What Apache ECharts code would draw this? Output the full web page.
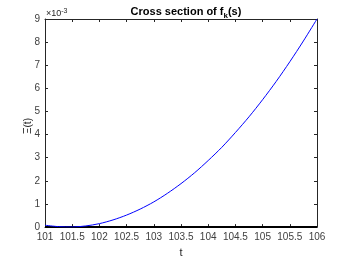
<!DOCTYPE html>
<html><head><meta charset="utf-8">
<script src="https://cdn.jsdelivr.net/npm/echarts@6/dist/echarts.min.js"></script>
<style>html,body{margin:0;padding:0;background:#fff}#c{width:350px;height:263px}</style>
</head><body><div id="c"></div>
<script>
// t values and Xi(t) in units of 1e-3
const tValues = [101, 101.25, 101.5, 101.75, 102, 102.25, 102.5, 102.75, 103, 103.25, 103.5, 103.75, 104, 104.25, 104.5, 104.75, 105, 105.25, 105.5, 105.75, 106];
const xiValues = [0.08, 0.02, 0.005, 0.05, 0.15, 0.31, 0.52, 0.78, 1.09, 1.46, 1.88, 2.35, 2.88, 3.45, 4.09, 4.77, 5.51, 6.30, 7.15, 8.05, 9.0];
const zeroLine = [[101, 0], [106, 0]];
const xTicks = [101, 101.5, 102, 102.5, 103, 103.5, 104, 104.5, 105, 105.5, 106];
const yTicks = [0, 1, 2, 3, 4, 5, 6, 7, 8, 9];
const exponentText = '-3';

const chart = echarts.init(document.getElementById('c'), null, {renderer: 'canvas'});
const axisCol = '#262626';
const font = 'Liberation Sans, Arial, sans-serif';
const baseAxis = {
  axisLine: {show: true, onZero: false, lineStyle: {color: axisCol, width: 1}},
  axisTick: {show: true, inside: true, length: 3, lineStyle: {color: axisCol}},
  splitLine: {show: false}
};
chart.setOption({
  animation: false,
  backgroundColor: '#fff',
  title: {
    text: '{b|Cross section of f}{s|k}{b|(s)}',
    left: 181, top: 1, textAlign: 'center',
    textStyle: {rich: {
      b: {fontFamily: font, fontSize: 11, fontWeight: 'bold', color: '#000', verticalAlign: 'top', lineHeight: 14},
      s: {fontFamily: font, fontSize: 8, fontWeight: 'bold', color: '#000', verticalAlign: 'bottom', padding: [6, 0, 0, 0], lineHeight: 14}
    }}
  },
  graphic: [{
    type: 'text', left: 46, top: 8,
    style: {text: '×10{e|' + exponentText + '}', fill: axisCol, font: '9px ' + font,
      rich: {e: {fontSize: 7, verticalAlign: 'top', padding: [0, 0, 5, 0], fill: axisCol, fontFamily: font}}}
  }, {
    type: 'text', x: 28, y: 126, rotation: Math.PI / 2,
    style: {text: 'Ξ(t)', fill: axisCol, font: '10px ' + font, align: 'center', verticalAlign: 'middle'}
  }],
  grid: {left: 45, right: 33, top: 19, bottom: 29, containLabel: false},
  xAxis: [
    Object.assign({}, baseAxis, {type: 'value', min: 101, max: 106, interval: 0.5, position: 'bottom',
      name: 't', nameLocation: 'middle', nameGap: 17,
      nameTextStyle: {fontFamily: font, fontSize: 11, color: axisCol},
      axisLabel: {show: true, fontFamily: font, fontSize: 10, color: '#404040', margin: 5,
        formatter: v => xTicks.indexOf(Math.round(v * 2) / 2) >= 0 ? String(Math.round(v * 2) / 2) : ''}}),
    Object.assign({}, baseAxis, {type: 'value', min: 101, max: 106, interval: 0.5, position: 'top', axisLabel: {show: false}})
  ],
  yAxis: [
    Object.assign({}, baseAxis, {type: 'value', min: 0, max: 9, interval: 1, position: 'left',
      axisLabel: {show: true, fontFamily: font, fontSize: 10, color: '#404040', margin: 5,
        formatter: v => String(Math.round(v))}}),
    Object.assign({}, baseAxis, {type: 'value', min: 0, max: 9, interval: 1, position: 'right', axisLabel: {show: false}})
  ],
  series: [
    {type: 'line', data: zeroLine, symbol: 'none', lineStyle: {color: '#000', width: 2}, z: 3},
    {type: 'line', data: tValues.map((t, i) => [t, xiValues[i]]), symbol: 'none', smooth: 0.3,
      lineStyle: {color: '#0000ff', width: 1}, z: 4}
  ]
});
</script></body></html>
